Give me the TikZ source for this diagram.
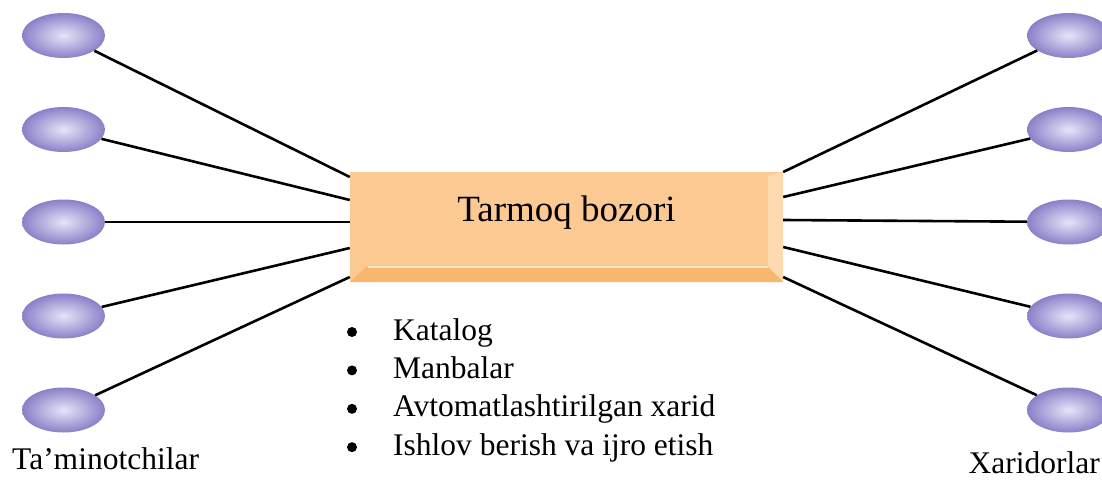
\documentclass[tikz,border=0pt]{standalone}
\usepackage{fontspec}
\setmainfont{Liberation Serif}
\usetikzlibrary{shapes.geometric}
\definecolor{actorpurple}{HTML}{8A80C8}
\definecolor{actorlight}{HTML}{E6E4F8}
\definecolor{boxface}{HTML}{FDC993}
\definecolor{bevelright}{HTML}{FDDAB0}
\definecolor{bevelbottom}{HTML}{F9B76E}
\definecolor{bevellight}{HTML}{FDE4C6}
\tikzset{
  actor/.style={ellipse, minimum width=83pt, minimum height=45pt, inner sep=0pt,
    shading=radial, inner color=actorlight, outer color=actorpurple},
  link/.style={line width=2.6pt, black},
  listtext/.style={font=\fontsize{31.5}{38}\selectfont, inner sep=0pt, anchor=base west},
  listdot/.style={circle, fill=black, minimum size=10pt, inner sep=0pt}
}
\begin{document}
\begin{tikzpicture}[x=1pt,y=-1pt]
      \useasboundingbox (0,0) rectangle (1102,481);
      % Nodes
      \node (market) at (566.5,227) [rectangle, fill=boxface, minimum width=433pt, minimum height=110pt, inner sep=0pt] {};
      \fill[bevelright] (market.north east) -- (market.south east) -- ([xshift=-15pt,yshift=15pt]market.south east) -- ([xshift=-15pt,yshift=-4pt]market.north east) -- cycle;
      \fill[bevelbottom] (market.south west) -- (market.south east) -- ([xshift=-15pt,yshift=15pt]market.south east) -- ([xshift=16pt,yshift=15pt]market.south west) -- cycle;
      \draw[bevellight, line width=1.5pt] ([xshift=18pt,yshift=15pt]market.south west) -- ([xshift=-15pt,yshift=15pt]market.south east);
      \node (title) at ([yshift=5pt]market.center) [anchor=base, inner sep=0pt, font=\fontsize{37}{44}\selectfont] {Tarmoq bozori};

      \foreach \y [count=\i] in {35.5,129.5,222,316,410} {
        \node[actor] (sup\i) at (63.5,\y) {};
        \node[actor] (buy\i) at (1068.5,\y) {};
      }

      \foreach \txt [count=\i] in {Katalog, Manbalar, Avtomatlashtirilgan xarid, Ishlov berish va ijro etish} {
        \node[listdot] (dot\i) at (352,{332+38.4*(\i-1)}) {};
        \node[listtext] (item\i) at (393,{340+38.4*(\i-1)}) {\txt};
      }

      \node[listtext] (suppliers) at (12,469) {Ta’minotchilar};
      \node[listtext, anchor=base east] (buyers) at (1100,473) {Xaridorlar};

      % Edges
      \foreach \i/\dl/\dr in {1/50/55, 2/27/30, 3/5/7, 4/-21/-20, 5/-50/-50} {
        \draw[link] (sup\i) -- ([yshift=\dl pt]market.west);
        \draw[link] ([yshift=\dr pt]market.east) -- (buy\i);
      }
    \end{tikzpicture}
\end{document}
